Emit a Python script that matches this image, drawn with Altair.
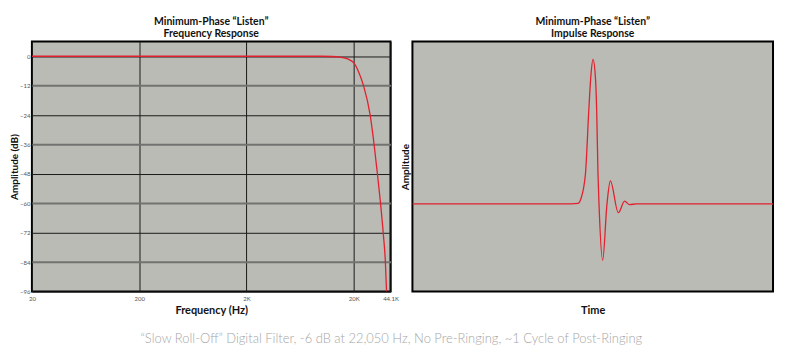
import altair as alt
import pandas as pd

# ---- data ----
freq_hz = [20, 1000, 5000, 10000, 12500, 15000, 17000, 18500, 20000, 22050,
           24700, 28500, 31000, 33300, 35600, 37700, 39500, 40500]
freq_db = [0, 0, 0, 0, -0.1, -0.4, -0.9, -1.6, -2.6, -6,
           -12, -24, -36, -48, -60, -72, -84, -96]

imp_t = [0, 44, 45.9, 46.7, 47.98, 48.9, 49.45, 50.08, 50.75, 51.1, 51.46, 51.74,
         52.76, 53.95, 54.89, 57.1, 58.84, 60.22, 62.1, 100]
imp_amp = [0, 0, 0.003, 0.034, 0.207, 0.643, 0.874, 1.0, 0.874, 0.643, 0.207, 0.0,
           -0.39, 0.0, 0.16, -0.061, 0.019, -0.005, 0.0, 0]

x_tick_values = [20, 200, 2000, 20000, 44100]
x_tick_labels = ["20", "200", "2K", "20K", "44.1K"]
y_tick_values = [0, -12, -24, -36, -48, -60, -72, -84, -96]

left_title = ["Minimum-Phase \u201cListen\u201d", "Frequency Response"]
right_title = ["Minimum-Phase \u201cListen\u201d", "Impulse Response"]
footer = ("\u201cSlow Roll-Off\u201d Digital Filter, -6 dB  at 22,050 Hz, "
          "No Pre-Ringing, ~1 Cycle of Post-Ringing")

# ---- styling ----
BG = "#bbbbb5"
RED = "#e2202e"
FONT = "Lato"

label_expr = " : ".join(
    f"datum.value == {v} ? '{l}'" for v, l in zip(x_tick_values, x_tick_labels)
) + " : ''"

freq_df = pd.DataFrame({"f": freq_hz, "db": freq_db})
imp_df = pd.DataFrame({"t": imp_t, "a": imp_amp})

def panel_title(lines):
    return alt.TitleParams(lines, font=FONT, fontSize=10.5, fontWeight="bold",
                           color="#111", lineHeight=12, offset=2, anchor="middle")

left = alt.Chart(freq_df).mark_line(
    color=RED, strokeWidth=1.3, interpolate="monotone", clip=True
).encode(
    x=alt.X("f:Q",
            scale=alt.Scale(type="log", domain=[20, 44100], nice=False),
            axis=alt.Axis(values=x_tick_values, labelExpr=label_expr,
                          title="Frequency (Hz)", grid=True, gridColor="#1a1a1a",
                          gridWidth=1, ticks=False, domain=False,
                          labelFont=FONT, labelFontSize=6, labelColor="#555",
                          labelPadding=4, labelFlush=False, labelOverlap=False,
                          titleFont=FONT, titleFontSize=11, titleFontWeight="bold",
                          titleColor="#111", titlePadding=3)),
    y=alt.Y("db:Q",
            scale=alt.Scale(domain=[-96, 6], nice=False, zero=False),
            axis=alt.Axis(values=y_tick_values, title="Amplitude (dB)",
                          grid=True,
                          gridColor={"condition": {"test": "datum.value % 24 != 0",
                                                   "value": "#727270"},
                                     "value": "#1a1a1a"},
                          gridWidth={"condition": {"test": "datum.value % 24 != 0",
                                                   "value": 2},
                                     "value": 1},
                          ticks=False, domain=False,
                          labelFont=FONT, labelFontSize=6, labelColor="#555",
                          labelPadding=2, labelFlush=False, labelOverlap=False,
                          titleFont=FONT, titleFontSize=10, titleFontWeight="bold",
                          titleColor="#111", titlePadding=0)),
).properties(width=360, height=251, title=panel_title(left_title))

right = alt.Chart(imp_df).mark_line(
    color=RED, strokeWidth=1.3, interpolate="monotone", clip=True
).encode(
    x=alt.X("t:Q", scale=alt.Scale(domain=[0, 100], nice=False),
            axis=alt.Axis(labels=False, ticks=False, domain=False, grid=False,
                          title="Time", titleFont=FONT, titleFontSize=11,
                          titleFontWeight="bold", titleColor="#111",
                          titlePadding=13)),
    y=alt.Y("a:Q", scale=alt.Scale(domain=[-0.607, 1.124], nice=False, zero=False),
            axis=alt.Axis(labels=False, ticks=False, domain=False, grid=False,
                          title="Amplitude", titleFont=FONT, titleFontSize=10,
                          titleFontWeight="bold", titleColor="#111",
                          titlePadding=2)),
).properties(width=362, height=251, title=panel_title(right_title))

chart = alt.hconcat(left, right, spacing=22, bounds="flush").properties(
    title=alt.TitleParams(footer, orient="bottom", anchor="middle", font=FONT,
                          fontSize=13, fontWeight=300, color="#a6a6a6", offset=17),
    padding={"left": 0, "top": 7, "right": 5, "bottom": 5},
    background="white",
).configure_view(stroke="black", strokeWidth=2, fill=BG)

chart.save("out.html", embed_options={"renderer": "svg", "actions": False})
